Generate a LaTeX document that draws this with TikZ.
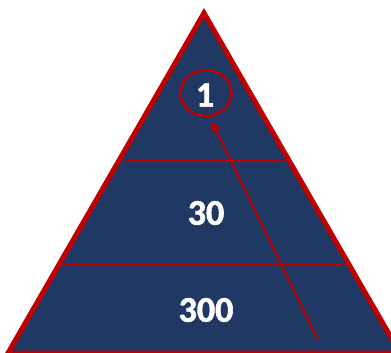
\documentclass[tikz,border=0pt]{standalone}
\usepackage{fontspec}
\newfontfamily\numfont{Carlito-Bold.ttf}[FakeBold=1.6]
\usetikzlibrary{arrows.meta,shapes.geometric}
\definecolor{navy}{RGB}{31,56,100}
\definecolor{pred}{RGB}{192,0,0}
\tikzset{
  lvl/.style={font=\numfont\fontsize{36}{36}\selectfont, text=white, inner sep=0pt},
  divider/.style={draw=pred, line width=2.2pt},
}
\begin{document}
\begin{tikzpicture}[x=1pt,y=-1pt]
\useasboundingbox (0,0) rectangle (391,353);
\coordinate (apex) at (204,13);
\coordinate (bl) at (8,353);
\coordinate (br) at (400,353);
\fill[navy] (apex) -- (bl) -- (br) -- cycle;
\coordinate (l1) at (125,161);
\coordinate (r1) at (284,161);
\coordinate (l2) at (64,264);
\coordinate (r2) at (343,264);
\draw[divider] (l1) -- (r1);
\draw[divider] (l2) -- (r2);
\draw[draw=pred, line width=5pt, line join=miter] (apex) -- (bl) -- (br) -- cycle;
\node[lvl] (one) at (205,95) {1};
\node[lvl] (thirty) at (206,213) {30};
\node[lvl] (three) at (206,310) {300};
\node[draw=pred, line width=2.4pt, ellipse, minimum width=51pt, minimum height=46pt, inner sep=0pt] (ring) at (206,93) {};
\coordinate (tail) at (318,340);
\coordinate (tip) at (212,122);
\draw[draw=pred, line width=2pt, -{Triangle[length=9pt,width=9pt]}] (tail) -- (tip);
\end{tikzpicture}
\end{document}
